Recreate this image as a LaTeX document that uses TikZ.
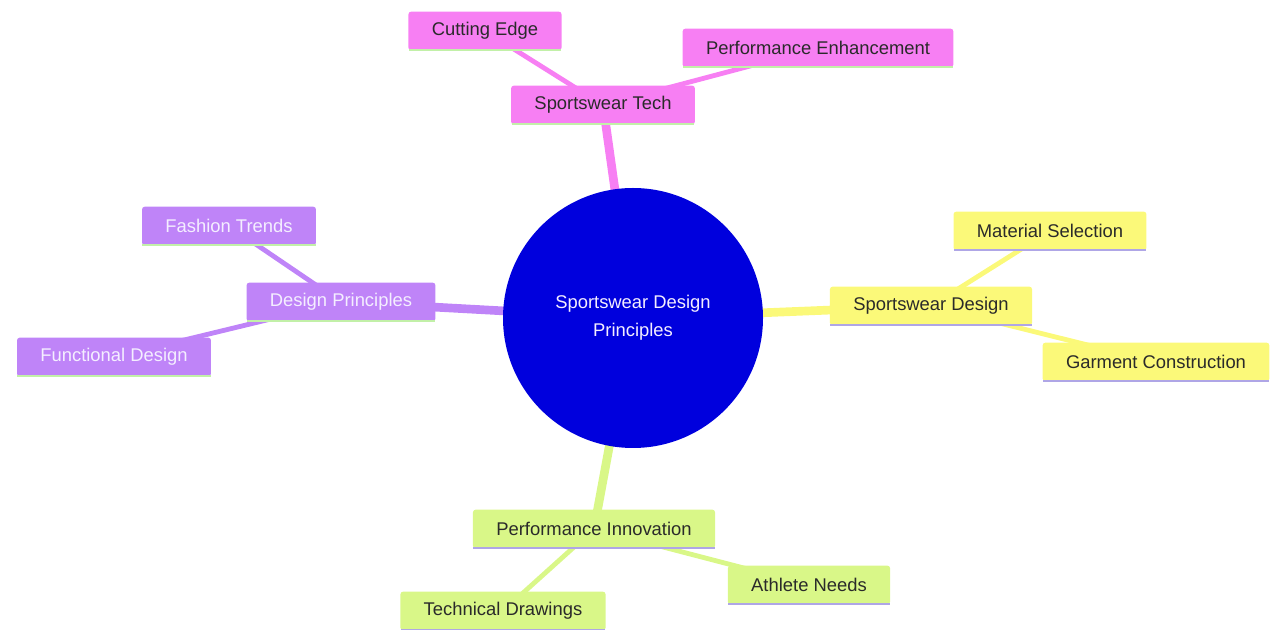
\documentclass[tikz,border=0pt]{standalone}
\usepackage{fontspec}
\setmainfont{Liberation Sans}
\usetikzlibrary{backgrounds}
\definecolor{cblue}{HTML}{0000DD}
\definecolor{cpink}{HTML}{F77FF3}
\definecolor{cpurple}{HTML}{BF84F8}
\definecolor{cyellow}{HTML}{FBF979}
\definecolor{cgreen}{HTML}{D9F788}
\definecolor{ulgreen}{HTML}{C2F0A8}
\definecolor{ullav}{HTML}{AFA6E6}
\definecolor{txtdark}{HTML}{2A2A2A}
\definecolor{txtlight}{HTML}{F4EEFF}
\tikzset{
  box/.style={rounded corners=2pt, inner xsep=17.5pt, minimum height=29pt, font=\fontsize{13.8}{16}\selectfont},
  ul/.style={append after command={(\tikzlastnode.south west) ++(0.5pt,0.6pt) edge[draw=#1, line width=1.8pt] ([xshift=-0.5pt,yshift=0.6pt]\tikzlastnode.south east)}},
  pinkbox/.style={box, fill=cpink, text=txtdark, ul=ulgreen},
  purplebox/.style={box, fill=cpurple, text=txtlight, ul=ulgreen},
  yellowbox/.style={box, fill=cyellow, text=txtdark, ul=ullav},
  greenbox/.style={box, fill=cgreen, text=txtdark, ul=ullav},
  rootnode/.style={circle, fill=cblue, minimum size=195pt, inner sep=0pt, align=center, text=txtlight, font=\fontsize{13.8}{21}\selectfont},
  mainedge/.style={line width=6.5pt, draw=#1},
  subedge/.style={line width=3.6pt, draw=#1},
}
\begin{document}
\begin{tikzpicture}[x=0.75pt, y=-0.75pt]
\useasboundingbox (0,0) rectangle (1272,630);
\node[rootnode] (root) at (633,318) {Sportswear Design\\Principles};
\node[pinkbox] (tech) at (603,105) {Sportswear Tech};
\node[pinkbox] (cut) at (485,31) {Cutting Edge};
\node[pinkbox] (perf) at (818,48) {Performance Enhancement};
\node[purplebox] (dp) at (341,302) {Design Principles};
\node[purplebox] (ft) at (229,226) {Fashion Trends};
\node[purplebox] (fd) at (114,357) {Functional Design};
\node[yellowbox] (sd) at (931,306) {Sportswear Design};
\node[yellowbox] (ms) at (1050,231) {Material Selection};
\node[yellowbox] (gc) at (1156,362) {Garment Construction};
\node[greenbox] (pi) at (594,529) {Performance Innovation};
\node[greenbox] (td) at (503,611) {Technical Drawings};
\node[greenbox] (an) at (809,585) {Athlete Needs};
\begin{scope}[on background layer]
\draw[mainedge=cpink] (root.center) -- (tech.center);
\draw[mainedge=cpurple] (root.center) -- (dp.center);
\draw[mainedge=cyellow] (root.center) -- (sd.center);
\draw[mainedge=cgreen] (root.center) -- (pi.center);
\draw[subedge=cpink] (tech.center) -- (cut.center);
\draw[subedge=cpink] (tech.center) -- (perf.center);
\draw[subedge=cpurple] (dp.center) -- (ft.center);
\draw[subedge=cpurple] (dp.center) -- (fd.center);
\draw[subedge=cyellow] (sd.center) -- (ms.center);
\draw[subedge=cyellow] (sd.center) -- (gc.center);
\draw[subedge=cgreen] (pi.center) -- (td.center);
\draw[subedge=cgreen] (pi.center) -- (an.center);
\end{scope}
\end{tikzpicture}
\end{document}
